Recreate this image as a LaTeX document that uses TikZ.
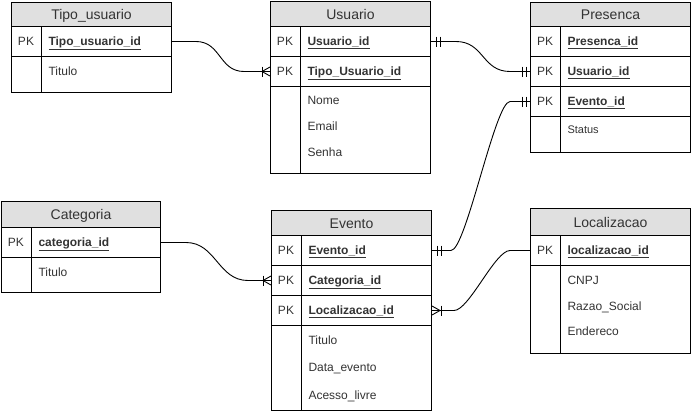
\documentclass[tikz,border=0pt]{standalone}
\usepackage{fontspec}
\setmainfont{Liberation Sans}
\definecolor{hdrgray}{HTML}{E0E0E0}
\definecolor{txt}{HTML}{333333}
\begin{document}
\begin{tikzpicture}[x=1pt,y=-1pt,line width=1pt,
  hdr/.style={draw,fill=hdrgray,anchor=north west,minimum width=160pt,inner sep=0pt,
    font=\fontsize{14}{16}\selectfont,text=txt,text height=10pt,text depth=0pt},
  rowbox/.style={draw,anchor=north west,minimum width=160pt,minimum height=30pt,inner sep=0pt},
  pk/.style={font=\fontsize{12}{14}\selectfont,text=txt,inner sep=0pt,text height=8.6pt,text depth=0pt},
  key/.style={font=\fontsize{12}{14}\selectfont\bfseries,text=txt,anchor=west,inner sep=0pt,text height=8.6pt,text depth=0pt},
  attr/.style={font=\fontsize{12}{14}\selectfont,text=txt,anchor=west,inner sep=0pt,text height=8.6pt,text depth=0pt},
  conn/.style={line width=0.9pt}]
\useasboundingbox (0,0) rectangle (691,413);

% ---------- Tipo_usuario
\node[hdr,minimum height=24pt] (tip) at (11,2) {Tipo\_usuario};
\node[rowbox] (tip-r1) at (11,26) {};
\node[rowbox,minimum height=36pt] (tip-at) at (11,56) {};
\draw ([xshift=30pt]tip-r1.north west) -- ([xshift=30pt]tip-at.south west);
\node[pk] (tip-pk1) at (26,41) {PK};
\node[key] (tip-k1) at (48,41) {\underline{Tipo\_usuario\_id}};
\node[attr] (tip-a1) at (48,71) {Titulo};

% ---------- Usuario
\node[hdr,minimum height=25pt] (usu) at (270,1) {Usuario};
\node[rowbox] (usu-r1) at (270,26) {};
\node[rowbox] (usu-r2) at (270,56) {};
\node[rowbox,minimum height=87pt] (usu-at) at (270,86) {};
\draw ([xshift=30pt]usu-r1.north west) -- ([xshift=30pt]usu-at.south west);
\node[pk] (usu-pk1) at (285,41) {PK};
\node[pk] (usu-pk2) at (285,71) {PK};
\node[key] (usu-k1) at (307,41) {\underline{Usuario\_id}};
\node[key] (usu-k2) at (307,71) {\underline{Tipo\_Usuario\_id}};
\node[attr] (usu-a1) at (307,100) {Nome};
\node[attr] (usu-a2) at (307,126) {Email};
\node[attr] (usu-a3) at (307,152) {Senha};

% ---------- Presenca
\node[hdr,minimum height=24pt] (pre) at (530,2) {Presenca};
\node[rowbox] (pre-r1) at (530,26) {};
\node[rowbox] (pre-r2) at (530,56) {};
\node[rowbox] (pre-r3) at (530,86) {};
\node[rowbox,minimum height=36pt] (pre-at) at (530,116) {};
\draw ([xshift=30pt]pre-r1.north west) -- ([xshift=30pt]pre-at.south west);
\node[pk] (pre-pk1) at (545,41) {PK};
\node[pk] (pre-pk2) at (545,71) {PK};
\node[pk] (pre-pk3) at (545,101) {PK};
\node[key] (pre-k1) at (567,41) {\underline{Presenca\_id}};
\node[key] (pre-k2) at (567,71) {\underline{Usuario\_id}};
\node[key] (pre-k3) at (567,101) {\underline{Evento\_id}};
\node[attr,font=\fontsize{11}{13}\selectfont,text height=7.9pt] (pre-a1) at (567,130) {Status};

% ---------- Categoria
\node[hdr,minimum width=159pt,minimum height=26pt] (cat) at (1,201) {Categoria};
\node[rowbox,minimum width=159pt] (cat-r1) at (1,227) {};
\node[rowbox,minimum width=159pt,minimum height=35pt] (cat-at) at (1,257) {};
\draw ([xshift=30pt]cat-r1.north west) -- ([xshift=30pt]cat-at.south west);
\node[pk] (cat-pk1) at (16,242) {PK};
\node[key] (cat-k1) at (38,242) {\underline{categoria\_id}};
\node[attr] (cat-a1) at (38,272) {Titulo};

% ---------- Evento
\node[hdr,minimum height=25pt] (eve) at (271,210) {Evento};
\node[rowbox] (eve-r1) at (271,235) {};
\node[rowbox] (eve-r2) at (271,265) {};
\node[rowbox] (eve-r3) at (271,295) {};
\node[rowbox,minimum height=85pt] (eve-at) at (271,325) {};
\draw ([xshift=30pt]eve-r1.north west) -- ([xshift=30pt]eve-at.south west);
\node[pk] (eve-pk1) at (286,250) {PK};
\node[pk] (eve-pk2) at (286,280) {PK};
\node[pk] (eve-pk3) at (286,310) {PK};
\node[key] (eve-k1) at (308,250) {\underline{Evento\_id}};
\node[key] (eve-k2) at (308,280) {\underline{Categoria\_id}};
\node[key] (eve-k3) at (308,310) {\underline{Localizacao\_id}};
\node[attr] (eve-a1) at (308,340) {Titulo};
\node[attr] (eve-a2) at (308,367) {Data\_evento};
\node[attr] (eve-a3) at (308,395) {Acesso\_livre};

% ---------- Localizacao
\node[hdr,minimum height=27pt] (loc) at (530,208) {Localizacao};
\node[rowbox] (loc-r1) at (530,235) {};
\node[rowbox,minimum height=88pt] (loc-at) at (530,265) {};
\draw ([xshift=30pt]loc-r1.north west) -- ([xshift=30pt]loc-at.south west);
\node[pk] (loc-pk1) at (545,250) {PK};
\node[key] (loc-k1) at (567,250) {\underline{localizacao\_id}};
\node[attr] (loc-a1) at (567,280) {CNPJ};
\node[attr] (loc-a2) at (567,306) {Razao\_Social};
\node[attr] (loc-a3) at (567,331) {Endereco};

% ---------- connectors
% Tipo_usuario -> Usuario (one to many)
\draw[conn] (tip-r1.east) -- ([xshift=24pt]tip-r1.east)
  .. controls +(25,0) and +(-25,0) .. ([xshift=-26pt]usu-r2.west) -- (usu-r2.west);
\draw[conn] ([xshift=-8pt]usu-r2.west) -- ++(8,-4.5) ([xshift=-8pt]usu-r2.west) -- ++(8,4.5);
\draw[conn] ([xshift=-8pt]usu-r2.west) ++(0,-5) -- ++(0,10);

% Usuario -> Presenca (one to one)
\draw[conn] (usu-r1.east) -- ([xshift=25pt]usu-r1.east)
  .. controls +(28,0) and +(-28,0) .. ([xshift=-20pt]pre-r2.west) -- (pre-r2.west);
\draw[conn] ([xshift=5pt]usu-r1.east) ++(0,-5) -- ++(0,10);
\draw[conn] ([xshift=9pt]usu-r1.east) ++(0,-5) -- ++(0,10);
\draw[conn] ([xshift=-4pt]pre-r2.west) ++(0,-5) -- ++(0,10);
\draw[conn] ([xshift=-8pt]pre-r2.west) ++(0,-5) -- ++(0,10);

% Evento -> Presenca (one to one)
\draw[conn] (eve-r1.east) -- ([xshift=19pt]eve-r1.east)
  .. controls +(15,0) and +(-15,0) .. ([xshift=-20pt]pre-r3.west) -- (pre-r3.west);
\draw[conn] ([xshift=5pt]eve-r1.east) ++(0,-5) -- ++(0,10);
\draw[conn] ([xshift=9pt]eve-r1.east) ++(0,-5) -- ++(0,10);
\draw[conn] ([xshift=-4pt]pre-r3.west) ++(0,-5) -- ++(0,10);
\draw[conn] ([xshift=-8pt]pre-r3.west) ++(0,-5) -- ++(0,10);

% Categoria -> Evento (one to many)
\draw[conn] (cat-r1.east) -- ([xshift=25pt]cat-r1.east)
  .. controls +(30,0) and +(-30,0) .. ([xshift=-23pt]eve-r2.west) -- (eve-r2.west);
\draw[conn] ([xshift=-8pt]eve-r2.west) -- ++(8,-4.5) ([xshift=-8pt]eve-r2.west) -- ++(8,4.5);
\draw[conn] ([xshift=-8pt]eve-r2.west) ++(0,-5) -- ++(0,10);

% Localizacao -> Evento (one to many)
\draw[conn] (loc-r1.west) -- ([xshift=-20pt]loc-r1.west)
  .. controls +(-15,0) and +(15,0) .. ([xshift=22pt]eve-r3.east) -- (eve-r3.east);
\draw[conn] ([xshift=8pt]eve-r3.east) -- ++(-8,-4.5) ([xshift=8pt]eve-r3.east) -- ++(-8,4.5);
\draw[conn] ([xshift=9pt]eve-r3.east) ++(0,-5) -- ++(0,10);
\end{tikzpicture}
\end{document}
